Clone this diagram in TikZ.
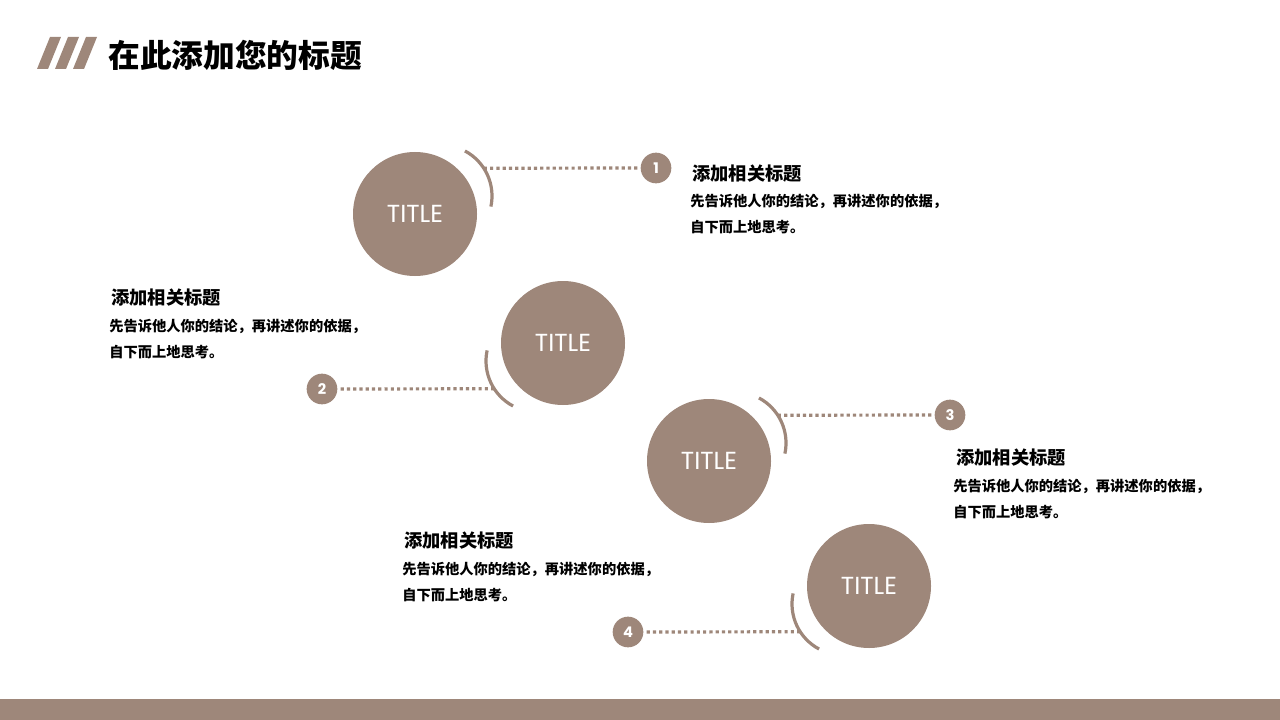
\documentclass[tikz,border=0pt]{standalone}
\usepackage{fontspec}
\setmainfont{Poppins}
\newfontfamily\cjk{Noto Sans CJK SC}
\usetikzlibrary{calc}
\definecolor{taupe}{RGB}{158,135,122}

\begin{document}
\begin{tikzpicture}[x=0.75pt, y=-0.75pt,
    bigcircle/.style={circle, fill=taupe, minimum size=93pt, inner sep=0pt, text=white, font=\fontsize{18.5}{18.5}\selectfont},
    numcircle/.style={circle, fill=taupe, minimum size=23pt, inner sep=0pt, text=white, font=\bfseries\fontsize{11}{11}\selectfont},
    ring/.style={draw=taupe, line width=2.4pt},
    dots/.style={draw=taupe, line width=2.4pt, dash pattern=on 2.4pt off 2.3pt},
    heading/.style={anchor=west, inner sep=0pt, font=\cjk\bfseries\fontsize{13.7}{13.7}\selectfont},
    body/.style={anchor=west, inner sep=0pt, align=left, font=\cjk\bfseries\fontsize{10.7}{19.5}\selectfont}
]
\useasboundingbox (0,0) rectangle (1280,720);

% Header
\foreach \i in {0,1,2}
    \fill[taupe] (37+18*\i,69) -- (48+18*\i,69) -- (61+18*\i,37) -- (50+18*\i,37) -- cycle;
\node[anchor=west, inner sep=0pt, font=\cjk\bfseries\fontsize{23.8}{23.8}\selectfont] (title) at (108,55) {在此添加您的标题};

% Circles
\node[bigcircle] (c1) at (415,214) {TITLE};
\node[bigcircle] (c2) at (563,343) {TITLE};
\node[bigcircle] (c3) at (709,461) {TITLE};
\node[bigcircle] (c4) at (869,586) {TITLE};

% Rings
\draw[ring] ($(c1.center)+(26,-18)+(-62:51)$) arc[start angle=-62, end angle=12, radius=51];
\draw[ring] ($(c2.center)+(-26,18)+(118:51)$) arc[start angle=118, end angle=192, radius=51];
\draw[ring] ($(c3.center)+(26,-18)+(-62:51)$) arc[start angle=-62, end angle=12, radius=51];
\draw[ring] ($(c4.center)+(-26,18)+(118:51)$) arc[start angle=118, end angle=192, radius=51];
\coordinate (a1) at ($(c1.center)+(26,-18)+(-33:51)$);
\coordinate (a2) at ($(c2.center)+(-26,18)+(147:51)$);
\coordinate (a3) at ($(c3.center)+(26,-18)+(-33:51)$);
\coordinate (a4) at ($(c4.center)+(-26,18)+(147:51)$);

% Numbers
\node[numcircle] (n1) at (656,168) {1};
\node[numcircle] (n2) at (322,389) {2};
\node[numcircle] (n3) at (950,415) {3};
\node[numcircle] (n4) at (628,632) {4};

% Texts
\node[heading] (h1) at (692,174) {添加相关标题};
\node[body] (b1) at (690,214) {先告诉他人你的结论，再讲述你的依据，\\自下而上地思考。};
\node[heading] (h2) at (111,298) {添加相关标题};
\node[body] (b2) at (109,339) {先告诉他人你的结论，再讲述你的依据，\\自下而上地思考。};
\node[heading] (h3) at (956,458) {添加相关标题};
\node[body] (b3) at (953,499) {先告诉他人你的结论，再讲述你的依据，\\自下而上地思考。};
\node[heading] (h4) at (404,541) {添加相关标题};
\node[body] (b4) at (402,582) {先告诉他人你的结论，再讲述你的依据，\\自下而上地思考。};

% Connections
\draw[dots] (a1) -- (n1);
\draw[dots] (a2) -- (n2);
\draw[dots] (a3) -- (n3);
\draw[dots] (a4) -- (n4);

% Footer
\fill[taupe] (0,699) rectangle (1280,720);

\end{tikzpicture}
\end{document}
